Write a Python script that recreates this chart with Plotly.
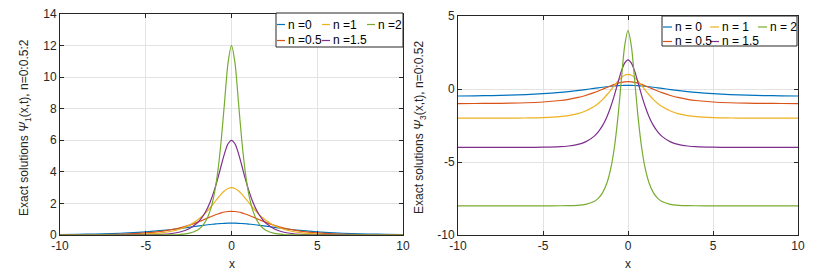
import plotly.graph_objects as go

W, H = 827, 275

# ---------------- data ----------------
x_vals = [-10, -9, -8, -7, -6, -5, -4, -3.5, -3, -2.5, -2, -1.75, -1.5, -1.25, -1, -0.8, -0.6, -0.4, -0.2, 0,
          0.2, 0.4, 0.6, 0.8, 1, 1.25, 1.5, 1.75, 2, 2.5, 3, 3.5, 4, 5, 6, 7, 8, 9, 10]

n_labels_left = ["n =0", "n =0.5", "n =1", "n =1.5", "n =2"]
n_labels_right = ["n = 0", "n = 0.5", "n = 1", "n = 1.5", "n = 2"]

psi1_n0 = [0.027, 0.041, 0.061, 0.091, 0.135, 0.199, 0.291, 0.349, 0.414, 0.486, 0.561, 0.598, 0.633, 0.665, 0.694, 0.713, 0.729, 0.740, 0.748, 0.750,
           0.748, 0.740, 0.729, 0.713, 0.694, 0.665, 0.633, 0.598, 0.561, 0.486, 0.414, 0.349, 0.291, 0.199, 0.135, 0.091, 0.061, 0.041, 0.027]
psi1_n05 = [0.006, 0.011, 0.021, 0.039, 0.073, 0.135, 0.249, 0.338, 0.456, 0.609, 0.801, 0.910, 1.024, 1.140, 1.252, 1.333, 1.402, 1.455, 1.489, 1.500,
            1.489, 1.455, 1.402, 1.333, 1.252, 1.140, 1.024, 0.910, 0.801, 0.609, 0.456, 0.338, 0.249, 0.135, 0.073, 0.039, 0.021, 0.011, 0.006]
psi1_n1 = [0.001, 0.002, 0.004, 0.010, 0.024, 0.060, 0.151, 0.239, 0.378, 0.596, 0.929, 1.153, 1.420, 1.727, 2.063, 2.338, 2.595, 2.808, 2.950, 3.000,
           2.950, 2.808, 2.595, 2.338, 2.063, 1.727, 1.420, 1.153, 0.929, 0.596, 0.378, 0.239, 0.151, 0.060, 0.024, 0.010, 0.004, 0.002, 0.001]
psi1_n15 = [0.000, 0.000, 0.000, 0.001, 0.003, 0.012, 0.048, 0.096, 0.191, 0.381, 0.756, 1.064, 1.491, 2.072, 2.839, 3.585, 4.403, 5.189, 5.778, 6.000,
            5.778, 5.189, 4.403, 3.585, 2.839, 2.072, 1.491, 1.064, 0.756, 0.381, 0.191, 0.096, 0.048, 0.012, 0.003, 0.001, 0.000, 0.000, 0.000]
psi1_n2 = [0, 0, 0, 0, 0, 0, 0.004, 0.011, 0.033, 0.098, 0.295, 0.510, 0.884, 1.528, 2.627, 4.010, 5.984, 8.493, 10.925, 12.000,
           10.925, 8.493, 5.984, 4.010, 2.627, 1.528, 0.884, 0.510, 0.295, 0.098, 0.033, 0.011, 0.004, 0, 0, 0, 0, 0, 0]

psi3_n0 = [-0.479, -0.467, -0.450, -0.424, -0.384, -0.323, -0.235, -0.178, -0.111, -0.037, 0.042, 0.082, 0.120, 0.155, 0.187, 0.209, 0.226, 0.239, 0.247, 0.250,
           0.247, 0.239, 0.226, 0.209, 0.187, 0.155, 0.120, 0.082, 0.042, -0.037, -0.111, -0.178, -0.235, -0.323, -0.384, -0.424, -0.450, -0.467, -0.479]
psi3_n05 = [-0.996, -0.992, -0.985, -0.970, -0.943, -0.889, -0.787, -0.705, -0.593, -0.444, -0.252, -0.140, -0.020, 0.103, 0.224, 0.313, 0.390, 0.449, 0.487, 0.500,
            0.487, 0.449, 0.390, 0.313, 0.224, 0.103, -0.020, -0.140, -0.252, -0.444, -0.593, -0.705, -0.787, -0.889, -0.943, -0.970, -0.985, -0.992, -0.996]
psi3_n1 = [-2.000, -1.999, -1.998, -1.995, -1.985, -1.960, -1.890, -1.819, -1.702, -1.511, -1.203, -0.988, -0.725, -0.411, -0.056, 0.243, 0.531, 0.775, 0.941, 1.000,
           0.941, 0.775, 0.531, 0.243, -0.056, -0.411, -0.725, -0.988, -1.203, -1.511, -1.702, -1.819, -1.890, -1.960, -1.985, -1.995, -1.998, -1.999, -2.000]
psi3_n15 = [-4.000, -4.000, -4.000, -3.999, -3.997, -3.988, -3.952, -3.904, -3.809, -3.619, -3.244, -2.936, -2.509, -1.928, -1.161, -0.415, 0.403, 1.189, 1.778, 2.000,
            1.778, 1.189, 0.403, -0.415, -1.161, -1.928, -2.509, -2.936, -3.244, -3.619, -3.809, -3.904, -3.952, -3.988, -3.997, -3.999, -4.000, -4.000, -4.000]
psi3_n2 = [-8, -8, -8, -8, -8, -8, -7.996, -7.989, -7.967, -7.902, -7.705, -7.490, -7.116, -6.472, -5.373, -3.990, -2.016, 0.493, 2.925, 4.000,
           2.925, 0.493, -2.016, -3.990, -5.373, -6.472, -7.116, -7.490, -7.705, -7.902, -7.967, -7.989, -7.996, -8, -8, -8, -8, -8, -8]

x_ticks = [-10, -5, 0, 5, 10]
x_tick_text = ["-10", "-5", "0", "5", "10"]
y_ticks_left = [0, 2, 4, 6, 8, 10, 12, 14]
y_tick_text_left = ["0", "2", "4", "6", "8", "10", "12", "14"]
y_ticks_right = [-10, -5, 0, 5]
y_tick_text_right = ["-10", "-5", "0", "5"]

colors = ["#0072BD", "#D95319", "#EDB120", "#7E2F8E", "#77AC30"]
left_series = [psi1_n0, psi1_n05, psi1_n1, psi1_n15, psi1_n2]
right_series = [psi3_n0, psi3_n05, psi3_n1, psi3_n15, psi3_n2]

FONT = "Liberation Sans, Arial, Helvetica, sans-serif"
AX = "#262626"
GRID = "#e3e3e3"


def px(x):
    return x / W


def py(y):
    return (H - y) / H


fig = go.Figure()

for i in range(5):
    fig.add_trace(go.Scatter(x=x_vals, y=left_series[i], mode="lines", name=n_labels_left[i],
                             line=dict(color=colors[i], width=1.2, shape="spline", smoothing=0.8),
                             xaxis="x", yaxis="y", showlegend=False))
for i in range(5):
    fig.add_trace(go.Scatter(x=x_vals, y=right_series[i], mode="lines", name=n_labels_right[i],
                             line=dict(color=colors[i], width=1.2, shape="spline", smoothing=0.8),
                             xaxis="x2", yaxis="y2", showlegend=False))

axis_common = dict(showline=True, linecolor=AX, linewidth=1, mirror="ticks", ticks="inside",
                   ticklen=4, tickcolor=AX, showgrid=True, gridcolor=GRID, gridwidth=1,
                   zeroline=False, automargin=False,
                   tickfont=dict(family=FONT, size=12, color=AX))

fig.update_layout(
    width=W, height=H,
    margin=dict(l=0, r=0, t=0, b=0),
    paper_bgcolor="white", plot_bgcolor="white",
    xaxis=dict(domain=[px(60), px(403)], range=[-10, 10], tickvals=x_ticks, ticktext=x_tick_text,
               anchor="y", **axis_common),
    yaxis=dict(domain=[py(235), py(14)], range=[0, 14], tickvals=y_ticks_left, ticktext=y_tick_text_left,
               anchor="x", **axis_common),
    xaxis2=dict(domain=[px(458), px(798)], range=[-10, 10], tickvals=x_ticks, ticktext=x_tick_text,
                anchor="y2", **axis_common),
    yaxis2=dict(domain=[py(235), py(16)], range=[-10, 5], tickvals=y_ticks_right, ticktext=y_tick_text_right,
                anchor="x2", **axis_common),
)

annotations = []
shapes = []

# axis titles
tfont = dict(family=FONT, size=12, color=AX)
annotations.append(dict(x=px(25), y=py(128), xref="paper", yref="paper", textangle=-90, showarrow=False,
                        text="Exact solutions <i>Ψ</i><sub>1</sub>(x,t), n=0:0.5:2", font=tfont,
                        xanchor="center", yanchor="middle"))
annotations.append(dict(x=px(420), y=py(128), xref="paper", yref="paper", textangle=-90, showarrow=False,
                        text="Exact solutions <i>Ψ</i><sub>3</sub>(x,t), n=0:0.52", font=tfont,
                        xanchor="center", yanchor="middle"))
annotations.append(dict(x=px(232), y=py(264), xref="paper", yref="paper", showarrow=False, text="x",
                        font=tfont, xanchor="center", yanchor="middle"))
annotations.append(dict(x=px(628), y=py(264), xref="paper", yref="paper", showarrow=False, text="x",
                        font=tfont, xanchor="center", yanchor="middle"))


# legends (drawn as boxes with short line samples)
def legend(box, cols, rows, labels_order, color_order, line_len):
    x0, y0, x1, y1 = box
    shapes.append(dict(type="rect", xref="paper", yref="paper", x0=px(x0), x1=px(x1), y0=py(y1), y1=py(y0),
                       line=dict(color=AX, width=1), fillcolor="white", layer="above"))
    k = 0
    for r, yy in enumerate(rows):
        for c, xx in enumerate(cols):
            if k >= len(labels_order) or (r == 1 and c == 2):
                break
            shapes.append(dict(type="line", xref="paper", yref="paper", x0=px(xx), x1=px(xx + line_len),
                               y0=py(yy), y1=py(yy), line=dict(color=color_order[k], width=1.2), layer="above"))
            annotations.append(dict(x=px(xx + line_len + 1), y=py(yy), xref="paper", yref="paper", showarrow=False,
                                    text=labels_order[k], font=dict(family=FONT, size=12, color="#000000"),
                                    xanchor="left", yanchor="middle"))
            k += 1


order = [0, 2, 4, 1, 3]
legend((276, 13, 403, 47), [277, 322, 367], [24.5, 40.5],
       [n_labels_left[i] for i in order], [colors[i] for i in order], 8)
legend((662, 16, 797, 46), [663, 710, 758], [27, 41.5],
       [n_labels_right[i] for i in order], [colors[i] for i in order], 9)

fig.update_layout(annotations=annotations, shapes=shapes)

fig.write_html("out.html", config={"displayModeBar": False},
               post_script="document.body.style.margin='0px';document.body.style.overflow='hidden';")
